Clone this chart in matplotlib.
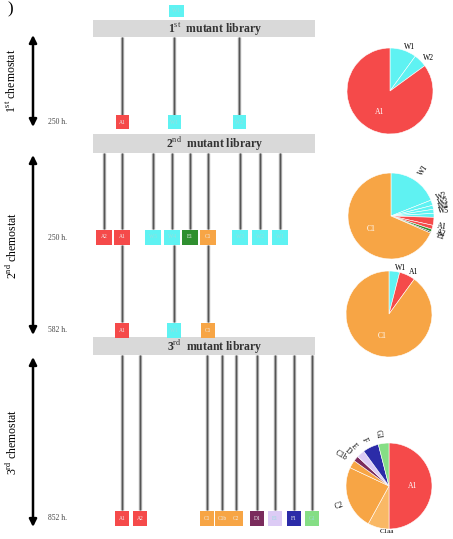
import numpy as np
import matplotlib
matplotlib.use("Agg")
import matplotlib.pyplot as plt
from matplotlib.patches import Rectangle

plt.rcParams['font.family'] = ['Liberation Serif', 'DejaVu Serif']
plt.rcParams['mathtext.fontset'] = 'custom'
plt.rcParams['mathtext.rm'] = 'Liberation Serif'

W, H = 453, 539

# colours of the mutant groups
col = {"A": "#f54a4a", "W": "#5ff2f2", "C": "#f7a545", "E": "#2f8f2f",
       "D": "#7a2b5c", "L": "#dccbf5", "F": "#2b2ba8", "G": "#85de85",
       "K": "#202020", "Ca": "#f9b865"}

# isolates picked at each sampling point
stage1_labels = ["A1", "W1", "W2"]
stage1_groups = ["A", "W", "W"]
stage2_labels = ["A2", "A1", "W5", "W4", "E1", "C1", "W3", "W2", "W1"]
stage2_groups = ["A", "A", "W", "W", "E", "C", "W", "W", "W"]
stage2b_labels = ["A1", "W1", "C1"]
stage2b_groups = ["A", "W", "C"]
stage3_labels = ["A1", "A2", "C1", "C1b", "C2", "D1", "E1", "F1", "G1"]
stage3_groups = ["A", "A", "C", "C", "C", "D", "L", "F", "G"]
times = ["250 h.", "250 h.", "582 h.", "852 h."]

# population composition (%) at each sampling point
pie1_labels = ["W1", "W2", "A1"]
pie1_vals = [10, 5, 85]
pie1_groups = ["W", "W", "A"]
pie2_labels = ["W1", "W2", "W3", "W4", "W5", "A1", "A2", "E1", "", "C1"]
pie2_vals = [19, 2, 1.5, 1.5, 1.5, 3, 1.5, 1, 0.5, 68.5]
pie2_groups = ["W", "W", "W", "W", "W", "A", "A", "E", "K", "C"]
pie3_labels = ["W1", "A1", "C1"]
pie3_vals = [4, 6, 90]
pie3_groups = ["W", "A", "C"]
pie4_labels = ["A1", "C1aa", "C2", "C1b", "D", "E", "F", "G1"]
pie4_vals = [50, 8, 24, 3, 2, 3, 6, 4]
pie4_groups = ["A", "Ca", "C", "C", "D", "L", "F", "G"]

fig = plt.figure(figsize=(W / 100, H / 100), dpi=100)
ax = fig.add_axes([0, 0, 1, 1])
ax.set_xlim(0, W)
ax.set_ylim(H, 0)
ax.axis("off")


def band(y0, y1, text):
    ax.add_patch(Rectangle((93, y0), 222, y1 - y0, color="#d9d9d9", lw=0, zorder=1))
    ax.text(215, (y0 + y1) / 2 + 0.5, text, ha="center", va="center",
            fontsize=8.5, fontweight="bold", color="#333333", zorder=2)


def boxes(xs, yc, labels, groups, w=14, h=14):
    for x, lab, g in zip(xs, labels, groups):
        ax.add_patch(Rectangle((x - w / 2, yc - h / 2), w, h, color=col[g], lw=0, zorder=3))
        tc = "#eeeeee" if g not in ("W", "L", "G") else "#99dddd"
        ax.text(x, yc, lab, ha="center", va="center", fontsize=4, color=tc, zorder=4)


def lines(xs, y0, y1):
    for x in xs:
        ax.plot([x, x], [y0, y1], color="#a5a5a5", lw=2.4, zorder=2, solid_capstyle="butt")
        ax.plot([x, x], [y0, y1], color="#555555", lw=0.8, zorder=2, solid_capstyle="butt")


def arrow(y0, y1, text):
    ax.annotate("", xy=(33, y1), xytext=(33, y0),
                arrowprops=dict(arrowstyle="<|-|>", color="black", lw=1.8,
                                mutation_scale=11, shrinkA=0, shrinkB=0))
    ax.text(12, (y0 + y1) / 2, text, rotation=90, ha="center", va="center", fontsize=8.5)


ax.text(10, 1, ")", fontsize=12, ha="center", va="top")

# first round
boxes([176], 11, ["W1"], ["W"], w=15, h=12)
band(20, 37, r"1$^{\mathrm{st}}$  mutant library")
x1 = [122, 174, 239]
lines(x1, 37, 115)
boxes(x1, 122, stage1_labels, stage1_groups, w=13)
arrow(35, 127, r"1$^{\mathrm{st}}$ chemostat")

# second round
band(134, 153, r"2$^{\mathrm{nd}}$  mutant library")
x2 = [104, 122, 153, 172, 190, 208, 240, 260, 280]
lines(x2, 153, 229)
boxes(x2, 237, stage2_labels, stage2_groups, w=16, h=15)
x2b = [122, 174, 208]
lines(x2b, 245, 322)
boxes(x2b, 330, stage2b_labels, stage2b_groups, w=14, h=15)
arrow(155, 335, r"2$^{\mathrm{nd}}$ chemostat")

# third round
band(337, 355, r"3$^{\mathrm{rd}}$  mutant library")
x3 = [122, 140, 207, 222, 236, 257, 275, 294, 312]
lines(x3, 355, 510)
boxes(x3, 518, stage3_labels, stage3_groups, w=14, h=15)
arrow(357, 527, r"3$^{\mathrm{rd}}$ chemostat")

for t, y in zip(times, [122, 238, 330, 518]):
    ax.text(48, y, t, ha="left", va="center", fontsize=5.5, color="#444444")


def pie(cx, cy, vals, labels, groups, big, r=43, rot=False):
    pax = fig.add_axes([(cx - r) / W, 1 - (cy + r) / H, 2 * r / W, 2 * r / H])
    wedges, texts = pax.pie(vals, colors=[col[g] for g in groups], startangle=90,
                            counterclock=False, labels=labels, labeldistance=1.08,
                            rotatelabels=rot,
                            wedgeprops=dict(edgecolor="white", linewidth=0.4),
                            textprops=dict(fontsize=5.5))
    pax.set_xlim(-1, 1)
    pax.set_ylim(-1, 1)
    for i in big:
        th = np.deg2rad((wedges[i].theta1 + wedges[i].theta2) / 2)
        texts[i].set_position((0.55 * np.cos(th), 0.55 * np.sin(th)))
        texts[i].set_color("white")
        texts[i].set_rotation(0)
        texts[i].set_ha("center")
        texts[i].set_va("center")
    return pax, texts


pie(390, 91, pie1_vals, pie1_labels, pie1_groups, [2])
pie(391, 216, pie2_vals, pie2_labels, pie2_groups, [9], rot=True)
pie(389, 314, pie3_vals, pie3_labels, pie3_groups, [2])
_, t4 = pie(389, 486, pie4_vals, pie4_labels, pie4_groups, [0], rot=True)
# the bottom label sits just under the rim
t4[1].set_position((-0.05, -1.0))
t4[1].set_rotation(0)
t4[1].set_ha("center")
t4[1].set_va("top")
t4[1].set_fontsize(5)

fig.savefig("out.png", dpi=100)
